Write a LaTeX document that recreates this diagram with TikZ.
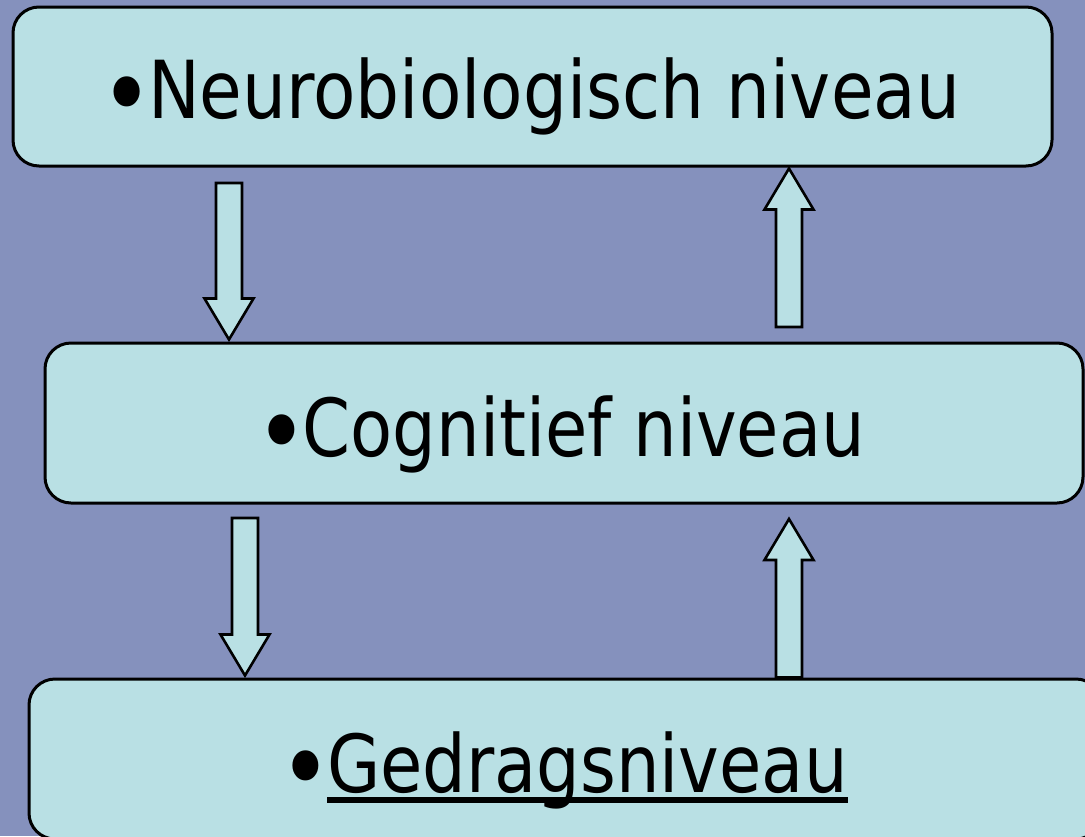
\documentclass[tikz,border=0pt]{standalone}
\usepackage{graphicx}
\usepackage{fontspec}
\setmainfont{DejaVu Sans}
\usetikzlibrary{calc}
\definecolor{bgblue}{RGB}{133,145,189}
\definecolor{boxfill}{RGB}{185,224,228}
\newsavebox\ulbox
\newcommand\ulword[1]{\sbox\ulbox{#1}\rlap{\rule[-11pt]{\wd\ulbox}{6pt}}\usebox\ulbox}
\newcommand\bul{\kern-8pt\raisebox{-12pt}{\scalebox{1.3}{•}}\kern-6pt}
\newcommand\fitw[2]{\resizebox{#1pt}{\height}{\fontsize{80}{96}\selectfont #2}}
\newcommand\downblk[2]{\draw[blk] let \p1=(#1),\p2=(#2) in
  ({\x1-13pt},\y1) -- ({\x1+13pt},\y1) -- ({\x1+13pt},{\y2+41pt}) -- ({\x1+24.5pt},{\y2+41pt})
  -- (\x1,\y2) -- ({\x1-24.5pt},{\y2+41pt}) -- ({\x1-13pt},{\y2+41pt}) -- cycle;}
\newcommand\upblk[2]{\draw[blk] let \p1=(#1),\p2=(#2) in
  ({\x1-13pt},\y1) -- ({\x1+13pt},\y1) -- ({\x1+13pt},{\y2-41pt}) -- ({\x1+24.5pt},{\y2-41pt})
  -- (\x1,\y2) -- ({\x1-24.5pt},{\y2-41pt}) -- ({\x1-13pt},{\y2-41pt}) -- cycle;}
\begin{document}
\begin{tikzpicture}[x=1pt,y=-1pt,
  lvl/.style={draw=black, line width=3pt, fill=boxfill, rounded corners=26pt, inner sep=0pt},
  lbl/.style={inner sep=0pt, anchor=base},
  blk/.style={draw=black, line width=2.6pt, fill=boxfill, line join=miter}]
\useasboundingbox (0,0) rectangle (1085,836);
\fill[bgblue] (0,0) rectangle (1085,836);
\clip (0,0) rectangle (1085,836);
% level boxes
\node[lvl, minimum width=1039pt, minimum height=159pt] (b1) at (532.5,86.5) {};
\node[lvl, minimum width=1038pt, minimum height=160pt] (b2) at (564,423) {};
\node[lvl, minimum width=1073pt, minimum height=160pt] (b3) at (565.5,759) {};
% arrow end points
\coordinate (a1) at (229,183);
\coordinate[yshift=2pt] (a1t) at (a1 |- b2.north);
\coordinate (a2) at (789,327);
\coordinate[yshift=-1pt] (a2t) at (a2 |- b1.south);
\coordinate (a3) at (245,518);
\coordinate[yshift=2pt] (a3t) at (a3 |- b3.north);
\coordinate (a4t) at (789,519);
\coordinate (a4) at (a4t |- b3.north);
\downblk{a1}{a1t}
\upblk{a2}{a2t}
\downblk{a3}{a3t}
\upblk{a4}{a4t}
% labels
\node[lbl] (t1) at (533.5,118) {\fitw{853}{\bul Neurobiologisch niveau}};
\node[lbl] (t2) at (563.5,456) {\fitw{603}{\bul Cognitief niveau}};
\node[lbl] (t3) at (567,792) {\fitw{561}{\bul\ulword{Gedragsniveau}}};
\end{tikzpicture}
\end{document}
